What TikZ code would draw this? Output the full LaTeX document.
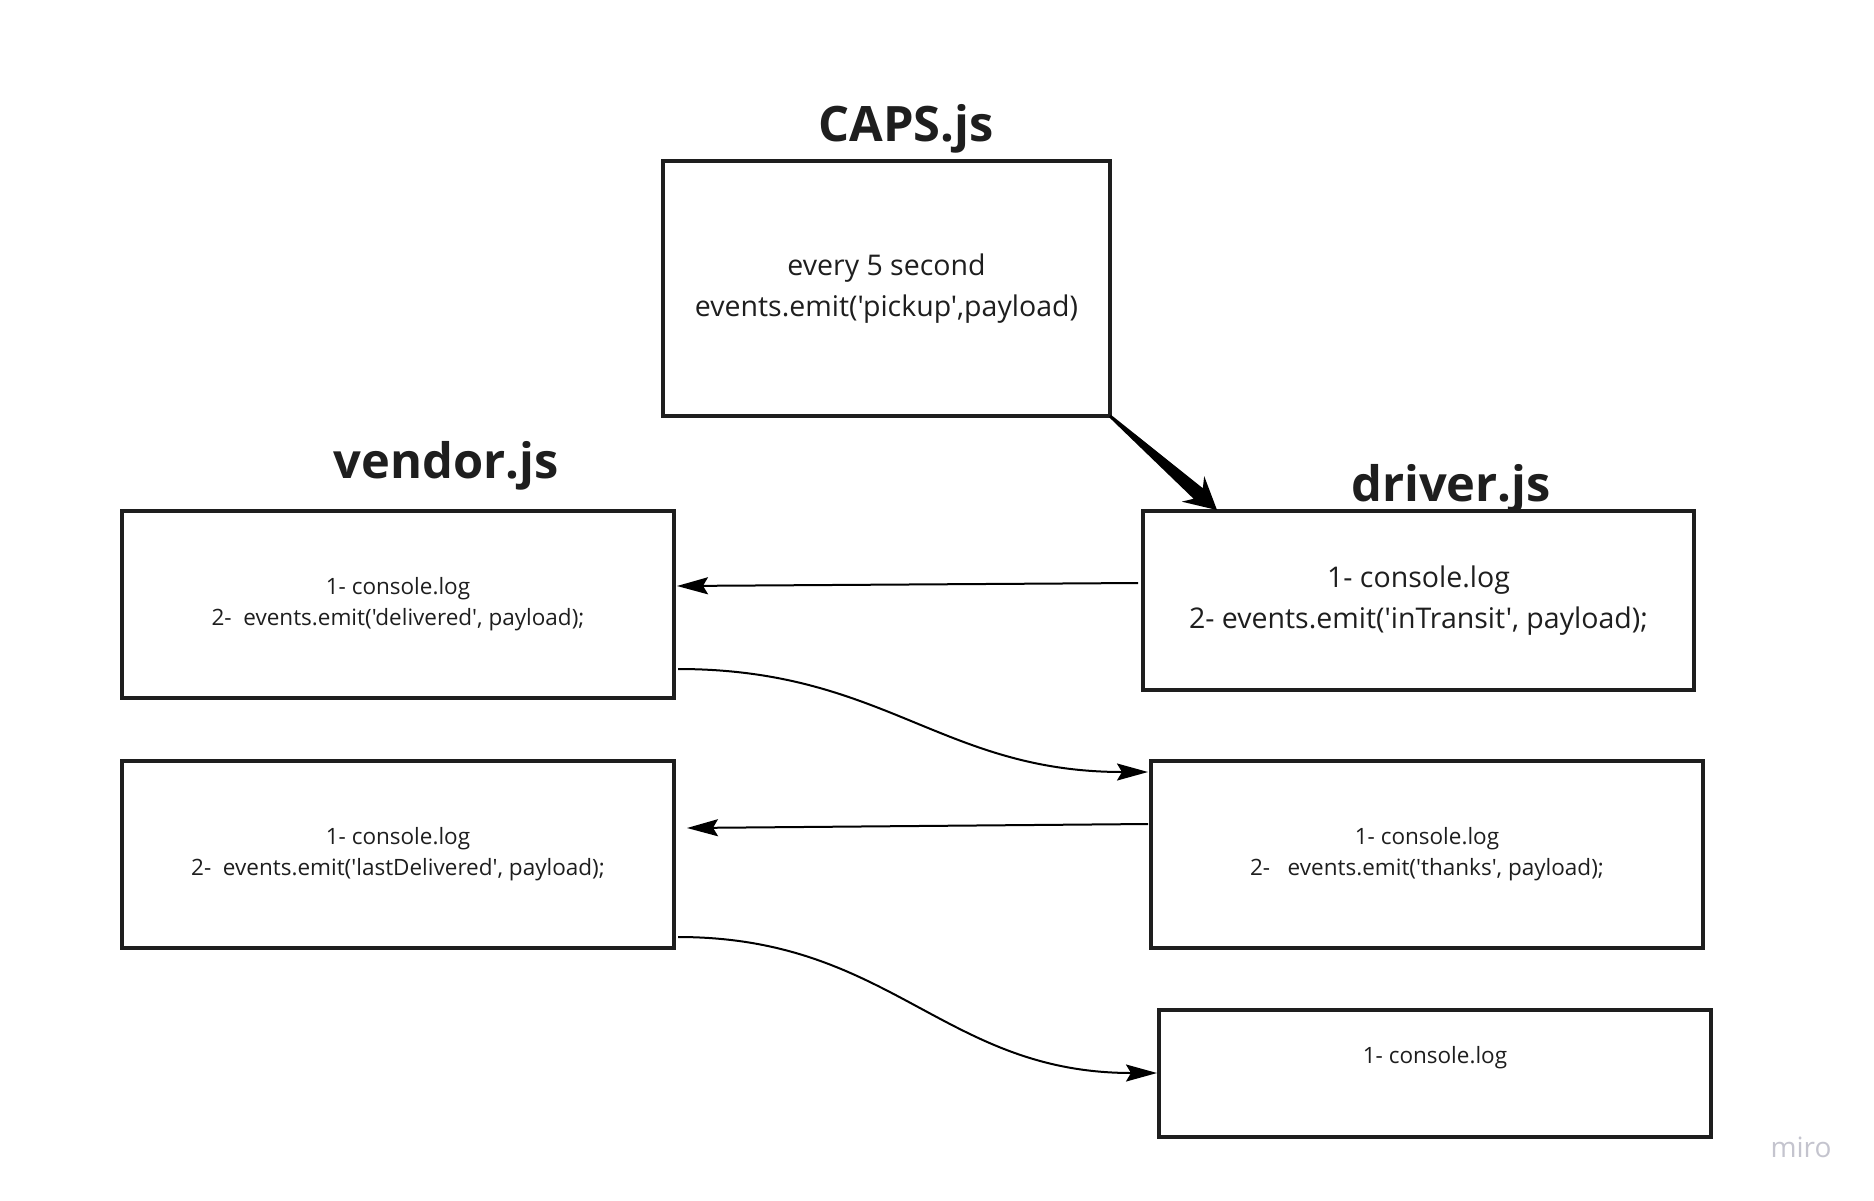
\documentclass[tikz,border=0pt]{standalone}
\usepackage{fontspec}
\setmainfont{Open Sans}[Ligatures=TeXOff]
\usetikzlibrary{arrows.meta,calc}
\definecolor{ink}{HTML}{1E1E1E}
\definecolor{mirogray}{HTML}{C4C4CE}
\tikzset{
  box/.style={draw=ink, line width=3.6pt, inner sep=0pt, outer sep=0pt, align=center, text=ink},
  bigtext/.style={font=\fontsize{28.5}{41}\selectfont},
  smalltext/.style={font=\fontsize{22.5}{31}\selectfont},
  title/.style={font=\fontsize{48.8}{58}\selectfont\bfseries, text=ink, anchor=base, inner sep=0pt},
  link/.style={draw=black, line width=2pt, -{Stealth[length=31pt,width=17pt,inset=5pt]}},
}
\begin{document}
\begin{tikzpicture}[x=1pt,y=-1pt]
\useasboundingbox[fill=white] (0,0) rectangle (1874,1200);

% titles
\node[title] (capsT) at (906,141) {CAPS.js};
\node[title] (vendT) at (446,478) {vendor.js};
\node[title] (drvT) at (1451,501) {driver.js};

% boxes
\node[box, bigtext, minimum width=447pt, minimum height=255pt] (caps) at (886.5,288.5)
  {every 5 second\\events.emit('pickup',payload)};
\node[box, smalltext, minimum width=552pt, minimum height=187pt] (v1) at (398,604.5)
  {1- console.log\\2-\ \ events.emit('delivered', payload);};
\node[box, bigtext, minimum width=551pt, minimum height=179pt] (d1) at (1418.5,600.5)
  {1- console.log\\2- events.emit('inTransit', payload);};
\node[box, smalltext, minimum width=552pt, minimum height=187pt] (v2) at (398,854.5)
  {1- console.log\\2-\ \ events.emit('lastDelivered', payload);};
\node[box, smalltext, minimum width=552pt, minimum height=187pt] (d2) at (1427,854.5)
  {1- console.log\\2-\ \ \ events.emit('thanks', payload);};
\node[box, minimum width=552pt, minimum height=127pt] (d3) at (1435,1073.5) {};
\node[smalltext, text=ink] (d3t) at ($(d3.north)+(0,48)$) {1- console.log};

% thick tapered arrow CAPS -> driver
\coordinate (ta) at (caps.south east);
\coordinate (tb) at ($(d1.north west)+(74,-1)$);
\coordinate (th) at ($(tb)!32pt!(ta)$);
\coordinate (ts) at ($(tb)!25pt!(ta)$);
\fill[black] ($(ta)!1.5pt!90:(tb)$) -- ($(ts)!7pt!-90:(ta)$) -- ($(th)!17pt!-90:(ta)$)
  -- (tb) -- ($(th)!17pt!90:(ta)$) -- ($(ts)!7pt!90:(ta)$) -- ($(ta)!1.5pt!-90:(tb)$) -- cycle;

% connectors
\draw[link] ([shift={(-5,-17.5)}]d1.west) -- ([shift={(3,-18.5)}]v1.east);
\draw[link] ([shift={(4,64.5)}]v1.east) to[out=0,in=180,looseness=1.1] ([shift={(-3,-82.5)}]d2.west);
\draw[link] ([shift={(-3,-30.5)}]d2.west) -- ([shift={(13,-26.5)}]v2.east);
\draw[link] ([shift={(4,82.5)}]v2.east) to[out=0,in=180,looseness=1.1] ([shift={(-2,-0.5)}]d3.west);

% watermark
\node[font=\fontsize{28}{30}\selectfont, text=mirogray] (miro) at (1801,1147) {miro};
\end{tikzpicture}
\end{document}
